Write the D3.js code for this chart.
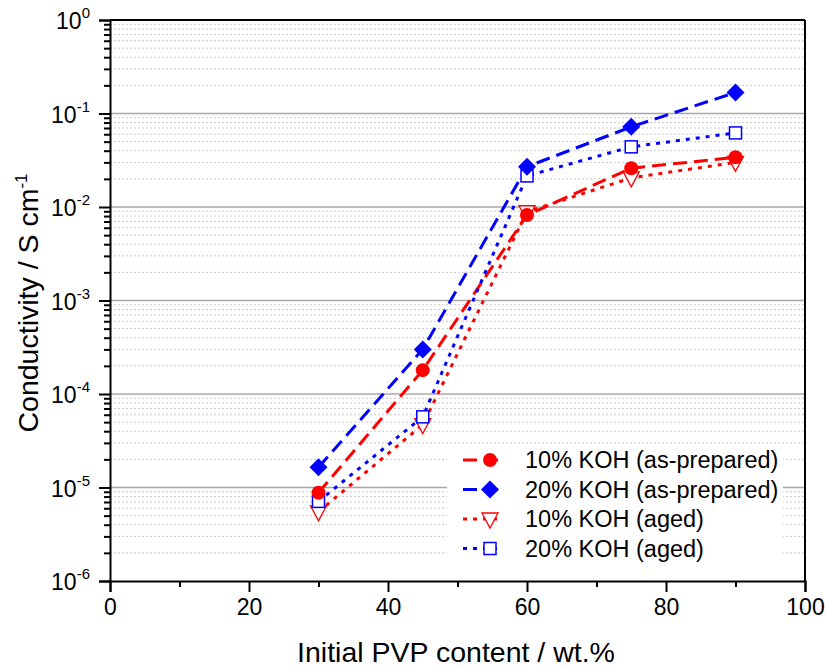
<!DOCTYPE html>
<html>
<head>
<meta charset="utf-8">
<script src="https://cdn.jsdelivr.net/npm/d3@7"></script>
<style>
  body { margin: 0; background: #fff; }
  svg { font-family: Arial, "Liberation Sans", sans-serif; }
</style>
</head>
<body>
<div id="chart"></div>
<script>
const pvp = [30, 45, 60, 75, 90];
const koh10Prepared = [8.8e-6, 1.8e-4, 8.2e-3, 0.026, 0.034];
const koh20Prepared = [1.65e-5, 3.0e-4, 0.027, 0.072, 0.168];
const koh10Aged = [5.5e-6, 4.7e-5, 8.9e-3, 0.0205, 0.030];
const koh20Aged = [7.1e-6, 5.7e-5, 0.0215, 0.044, 0.062];
const xTicks = [0, 20, 40, 60, 80, 100];
const yExponents = [0, -1, -2, -3, -4, -5, -6];

const seriesList = [
  { name: "10% KOH (as-prepared)", values: koh10Prepared, color: "#ff0000", dash: "14,7", marker: "circle" },
  { name: "20% KOH (as-prepared)", values: koh20Prepared, color: "#0000ff", dash: "14,7", marker: "diamond" },
  { name: "10% KOH (aged)", values: koh10Aged, color: "#ff0000", dash: "4,6", marker: "triangle" },
  { name: "20% KOH (aged)", values: koh20Aged, color: "#0000ff", dash: "4,6", marker: "square" }
];

const W = 825, H = 667;
const margin = { top: 20, right: 20, bottom: 86, left: 110 };
const width = W - margin.left - margin.right;   // 695
const height = H - margin.top - margin.bottom;  // 561

const svg = d3.select("#chart").append("svg")
  .attr("width", W).attr("height", H);
const g = svg.append("g").attr("transform", `translate(${margin.left},${margin.top})`);

const x = d3.scaleLinear().domain([0, 100]).range([0, width]);
const y = d3.scaleLog().domain([1e-6, 1]).range([height, 0]);

// grid lines
const minorVals = [];
for (let e = -6; e < 0; e++) for (let m = 2; m <= 9; m++) minorVals.push(m * Math.pow(10, e));
g.selectAll(".minor-grid").data(minorVals).enter().append("line")
  .attr("x1", 0).attr("x2", width)
  .attr("y1", d => y(d)).attr("y2", d => y(d))
  .attr("stroke", "#c8c8c8").attr("stroke-width", 1).attr("stroke-dasharray", "2,2");
g.selectAll(".major-grid").data(yExponents.slice(1, -1)).enter().append("line")
  .attr("x1", 0).attr("x2", width)
  .attr("y1", d => y(Math.pow(10, d))).attr("y2", d => y(Math.pow(10, d)))
  .attr("stroke", "#a8a8a8").attr("stroke-width", 1.5);

// legend background (hides grid)
const legendX = 337, legendY = 425;
g.append("rect").attr("x", legendX).attr("y", legendY).attr("width", 336).attr("height", 122).attr("fill", "#fff");

// lines
const line = d3.line().x((d, i) => x(pvp[i])).y(d => y(d));
seriesList.forEach(s => {
  g.append("path").datum(s.values)
    .attr("d", line).attr("fill", "none")
    .attr("stroke", s.color).attr("stroke-width", 3)
    .attr("stroke-dasharray", s.dash);
});

function drawMarker(sel, type, color, cx, cy) {
  if (type === "circle") {
    sel.append("circle").attr("cx", cx).attr("cy", cy).attr("r", 7).attr("fill", color);
  } else if (type === "diamond") {
    const r = 9;
    sel.append("path").attr("d", `M${cx},${cy - r}L${cx + r},${cy}L${cx},${cy + r}L${cx - r},${cy}Z`).attr("fill", color);
  } else if (type === "triangle") {
    sel.append("path").attr("d", `M${cx - 8},${cy - 6}L${cx + 8},${cy - 6}L${cx},${cy + 9}Z`)
      .attr("fill", "#fff").attr("stroke", color).attr("stroke-width", 1.3);
  } else if (type === "square") {
    sel.append("rect").attr("x", cx - 6).attr("y", cy - 6).attr("width", 12).attr("height", 12)
      .attr("fill", "#fff").attr("stroke", color).attr("stroke-width", 1.5);
  }
}

// markers
[seriesList[2], seriesList[3], seriesList[0], seriesList[1]].forEach(s => {
  s.values.forEach((v, i) => drawMarker(g, s.marker, s.color, x(pvp[i]), y(v)));
});

// axes
const xAxis = g.append("g").attr("transform", `translate(0,${height})`)
  .call(d3.axisBottom(x).tickValues(xTicks).tickSize(11).tickPadding(7).tickFormat(d3.format("d")));
g.append("g").attr("transform", `translate(0,${height})`)
  .call(d3.axisBottom(x).tickValues([10, 30, 50, 70, 90]).tickSize(6).tickFormat(""))
  .select(".domain").remove();

g.append("g")
  .call(d3.axisLeft(y).tickValues(yExponents.map(e => Math.pow(10, e))).tickSize(11).tickFormat(""));
g.append("g")
  .call(d3.axisLeft(y).tickValues(minorVals).tickSize(6).tickFormat(""))
  .select(".domain").remove();

svg.selectAll(".domain").attr("stroke", "#000").attr("stroke-width", 2);
svg.selectAll(".tick line").attr("stroke", "#000").attr("stroke-width", 2);
xAxis.selectAll("text").style("font-size", "23px").attr("fill", "#000");

// y tick labels with superscript
yExponents.forEach(e => {
  const t = g.append("text")
    .attr("x", -20).attr("y", y(Math.pow(10, e)) + 9)
    .attr("text-anchor", "end").style("font-size", "23px").attr("fill", "#000");
  t.append("tspan").text("10");
  t.append("tspan").attr("dy", -11).style("font-size", "15px").text(String(e));
});

// top and right frame
g.append("line").attr("x1", 0).attr("x2", width).attr("y1", 0).attr("y2", 0).attr("stroke", "#000").attr("stroke-width", 2);
g.append("line").attr("x1", width).attr("x2", width).attr("y1", 0).attr("y2", height).attr("stroke", "#000").attr("stroke-width", 2);

// axis titles
svg.append("text")
  .attr("x", 456).attr("y", 662)
  .attr("text-anchor", "middle").style("font-size", "28.5px").attr("fill", "#000")
  .text("Initial PVP content / wt.%");

const yTitle = svg.append("text")
  .attr("transform", `translate(38,303) rotate(-90)`)
  .attr("text-anchor", "middle").style("font-size", "28.5px").attr("fill", "#000");
yTitle.append("tspan").text("Conductivity / S cm");
yTitle.append("tspan").attr("dy", -11).style("font-size", "17px").text("-1");

// legend
seriesList.forEach((s, i) => {
  const ly = legendY + 15 + i * 29.5;
  const row = g.append("g");
  row.append("line").attr("x1", 353).attr("x2", 393).attr("y1", ly).attr("y2", ly)
    .attr("stroke", s.color).attr("stroke-width", 3).attr("stroke-dasharray", s.dash);
  drawMarker(row, s.marker, s.color, 380, ly);
  row.append("text").attr("x", 415).attr("y", ly + 8)
    .style("font-size", "23.5px").attr("fill", "#000").text(s.name);
});
</script>
</body>
</html>
